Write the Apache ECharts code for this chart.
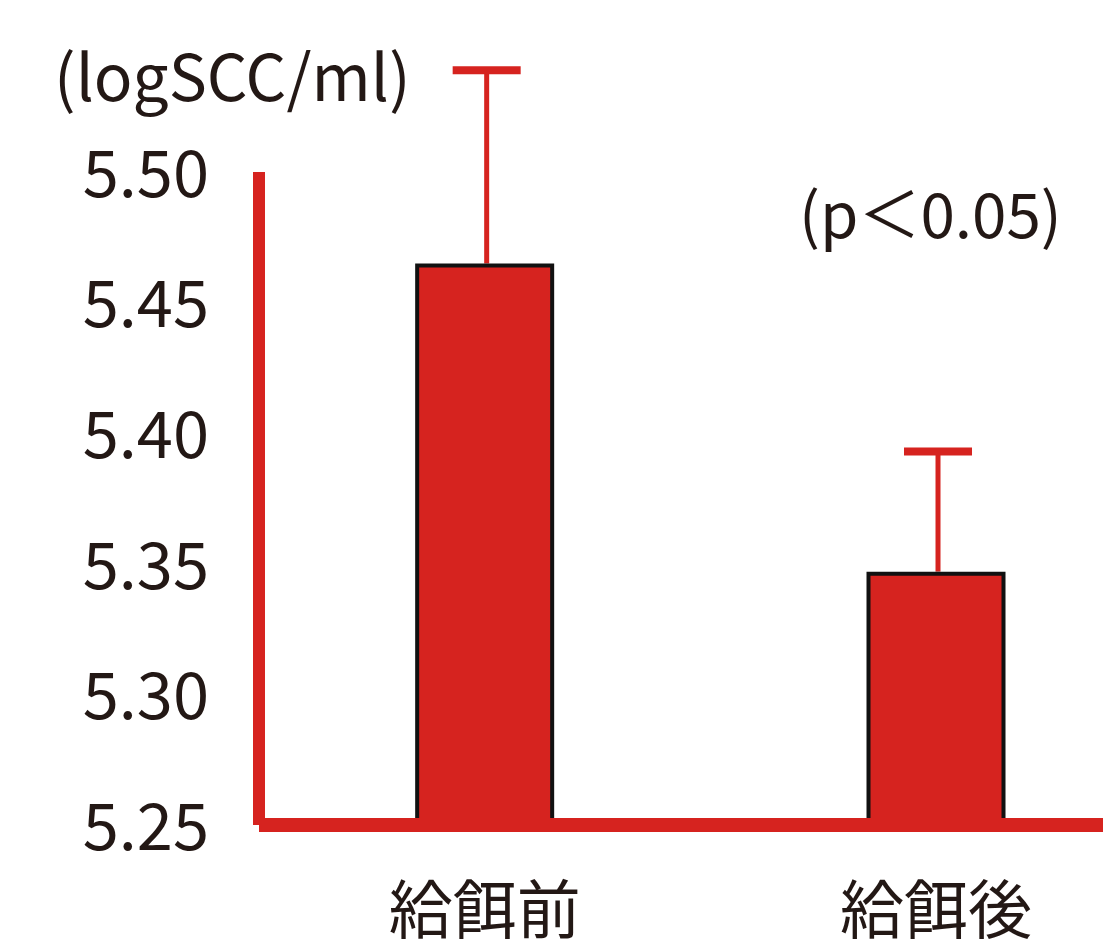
<!DOCTYPE html>
<html>
<head>
<meta charset="utf-8">
<script src="https://cdn.jsdelivr.net/npm/echarts@6/dist/echarts.min.js"></script>
<style>
  html, body { margin: 0; padding: 0; background: #ffffff; }
  #chart { width: 1117px; height: 943px; }
</style>
</head>
<body>
<div id="chart"></div>
<script>
// Somatic cell count (log SCC/ml) before and after feeding
const categories = ['給餌前', '給餌後'];
const means = [5.465, 5.347];
const sd = [0.074, 0.046];
const yTicks = [5.25, 5.30, 5.35, 5.40, 5.45, 5.50];
const unitLabel = '(logSCC/ml)';
const pLabel = '(p＜0.05)';

const RED = '#d6231f';
const INK = '#231815';
const FONT = '"Noto Sans CJK JP", "Noto Sans", sans-serif';

// bar positions on a numeric x axis: category i sits at i + 1
const barData = means.map((m, i) => [i + 1, m]);
const errData = means.map((m, i) => [i + 1, m, m + sd[i]]);

const chart = echarts.init(document.getElementById('chart'));
chart.setOption({
  animation: false,
  backgroundColor: '#ffffff',
  textStyle: { fontFamily: FONT },
  title: [
    { text: unitLabel, left: 49, top: 40,
      textStyle: { fontFamily: FONT, fontSize: 64, fontWeight: 'normal', color: INK } },
    { text: pLabel, left: 794, top: 178,
      textStyle: { fontFamily: FONT, fontSize: 62, fontWeight: 'normal', color: INK } }
  ],
  grid: { left: 259, right: 14, top: 172, bottom: 118, containLabel: false },
  xAxis: {
    type: 'value',
    min: 0.5,
    max: 2.37,
    interval: 0.5,
    z: 5,
    axisLine: { show: true, lineStyle: { color: RED, width: 14, cap: 'butt' } },
    axisTick: { show: false },
    splitLine: { show: false },
    axisLabel: {
      margin: 52,
      fontSize: 64,
      color: INK,
      fontFamily: FONT,
      showMinLabel: true,
      showMaxLabel: true,
      formatter: function (v) {
        const r = Math.round(v);
        return Math.abs(v - r) < 1e-6 && categories[r - 1] ? categories[r - 1] : '';
      }
    }
  },
  yAxis: {
    type: 'value',
    min: yTicks[0],
    max: yTicks[yTicks.length - 1],
    interval: 0.05,
    z: 5,
    axisLine: { show: true, lineStyle: { color: RED, width: 12, cap: 'butt' } },
    axisTick: { show: false },
    splitLine: { show: false },
    axisLabel: {
      margin: 50,
      fontSize: 65,
      color: INK,
      fontFamily: FONT,
      formatter: function (v) { return v.toFixed(2); }
    }
  },
  series: [
    {
      type: 'custom',
      z: 1,
      clip: false,
      data: errData,
      renderItem: function (params, api) {
        const x = api.value(0);
        const lo = api.coord([x, api.value(1)]);
        const hi = api.coord([x, api.value(2)]);
        return {
          type: 'group',
          children: [
            { type: 'line', shape: { x1: lo[0] + 2, y1: lo[1], x2: hi[0] + 2, y2: hi[1] },
              style: { stroke: RED, lineWidth: 5 } },
            { type: 'line', shape: { x1: hi[0] - 32, y1: hi[1], x2: hi[0] + 36, y2: hi[1] },
              style: { stroke: RED, lineWidth: 8 } }
          ]
        };
      }
    },
    {
      type: 'bar',
      z: 2,
      data: barData,
      barWidth: 139,
      itemStyle: { color: RED, borderColor: '#111111', borderWidth: 4 }
    }
  ]
});
</script>
</body>
</html>
